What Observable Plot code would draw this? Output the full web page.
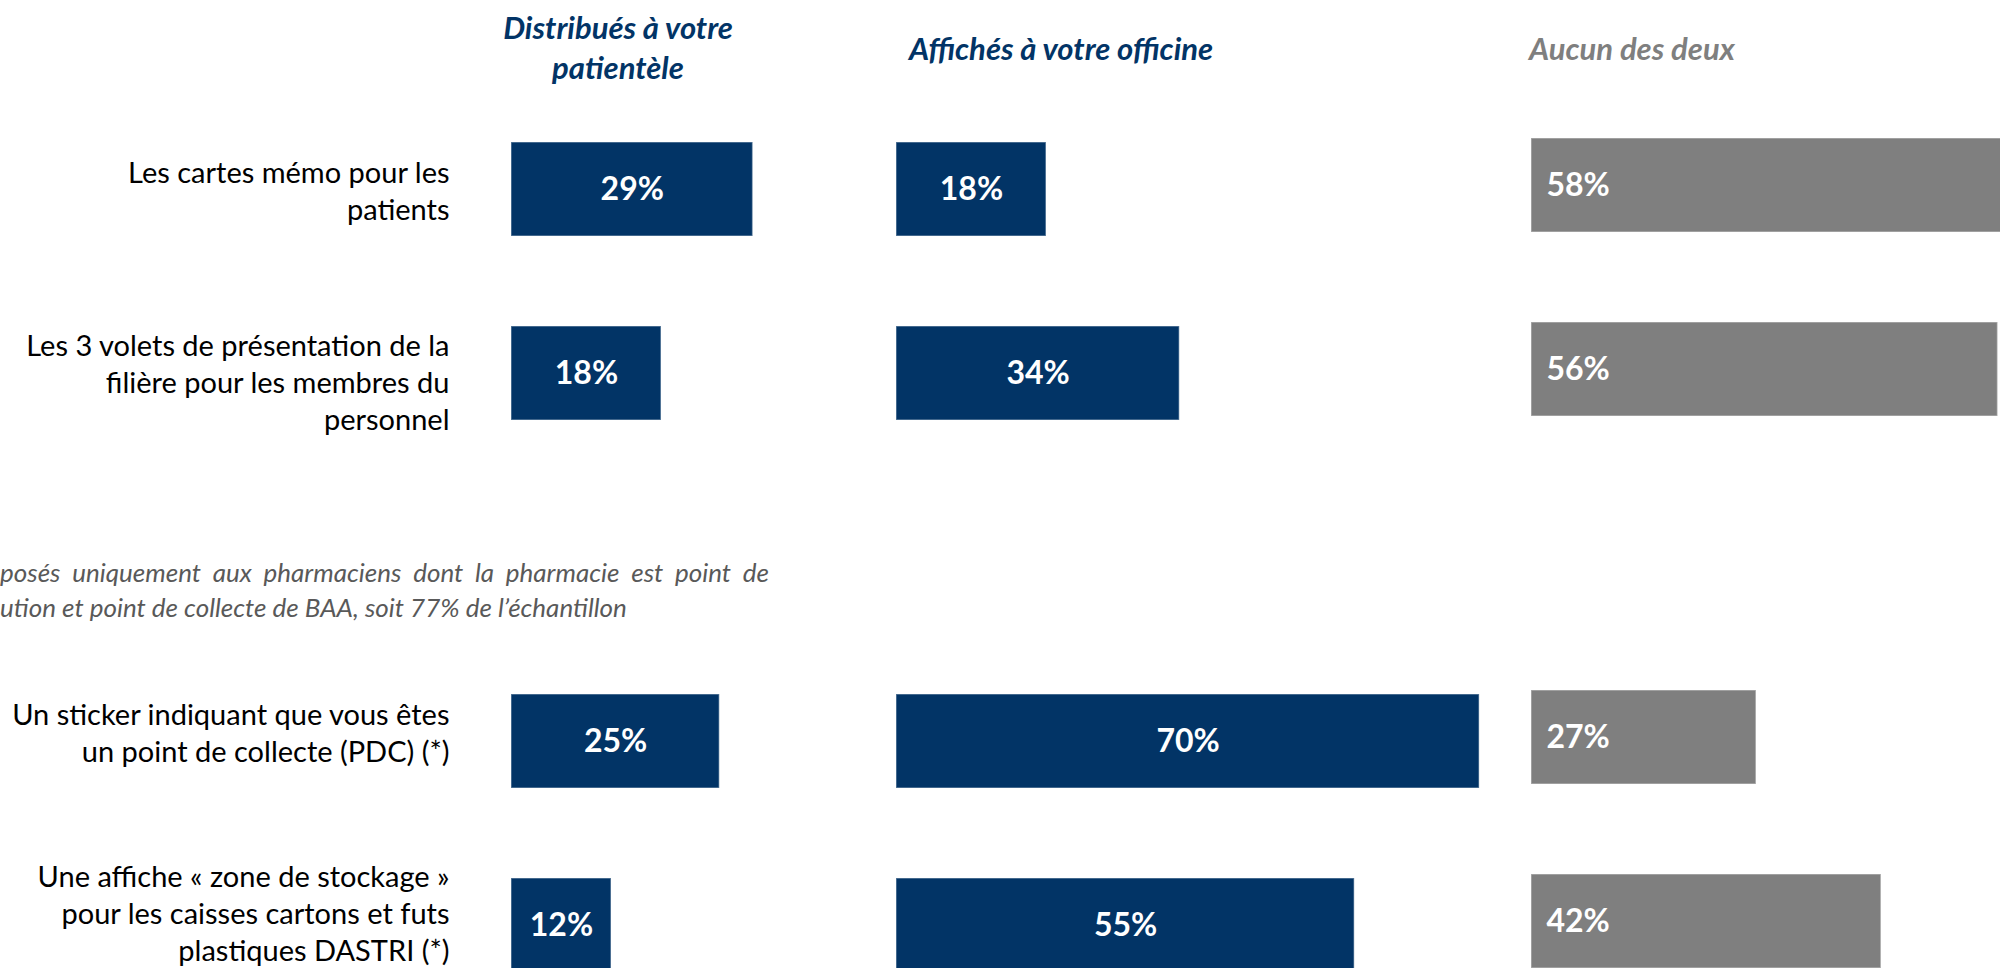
<!DOCTYPE html>
<html>
<head>
<meta charset="utf-8">
<script src="https://cdn.jsdelivr.net/npm/d3@7"></script>
<script src="https://cdn.jsdelivr.net/npm/@observablehq/plot@0.6"></script>
<style>
  html, body { margin: 0; padding: 0; background: #ffffff; overflow: hidden; }
  #chart { position: relative; width: 2000px; height: 968px; font-family: Lato, "Open Sans", sans-serif; }
  #chart svg { position: absolute; left: 0; top: 0; }
  .hdr { position: absolute; font-weight: bold; font-style: italic; font-size: 31px; line-height: 40px; white-space: pre; }
  .note { position: absolute; left: 0; font-style: italic; font-size: 26px; line-height: 28px; color: #595959; white-space: nowrap; }
</style>
</head>
<body>
<div id="chart"></div>
<script>
// ---- data ----
const categories = [
  "Les cartes mémo pour les\npatients",
  "Les 3 volets de présentation de la\nfilière pour les membres du\npersonnel",
  "Un sticker indiquant que vous êtes\nun point de collecte (PDC) (*)",
  "Une affiche « zone de stockage »\npour les caisses cartons et futs\nplastiques DASTRI (*)"
];
const distribues = [29, 18, 25, 12];
const affiches   = [18, 34, 70, 55];
const aucun      = [58, 56, 27, 42];
const seriesTitles = ["Distribués à votre\npatientèle", "Affichés à votre officine", "Aucun des deux"];
const noteLines = [
  "posés uniquement aux pharmaciens dont la pharmacie est point de",
  "ution et point de collecte de BAA, soit 77% de l’échantillon"
];

// ---- layout ----
const W = 2000, H = 968;
const NAVY = "#023466", GREY = "#7f7f7f";
const GAP = "\u00a0";
const yDomain = [categories[0], categories[1], GAP, categories[2], categories[3]];
const PX_PER_UNIT = 8.33;
const colStarts = [511, 896, 1531];
const labelShift = [0, 8, -10, -13]; // vertical nudge of each category label block, px

const chart = document.getElementById("chart");

function column(values, i, opts) {
  const rows = categories.map((c, k) => ({cat: c, value: values[k], k}));
  const start = colStarts[i];
  const color = opts.grey ? GREY : NAVY;
  const marks = [
    Plot.barX(rows, {
      y: "cat", x: "value", fill: color,
      stroke: "#ffffff", strokeOpacity: 0.35, strokeWidth: 1.5,
      insetTop: opts.grey ? -4 : 0, insetBottom: opts.grey ? 4 : 0
    })
  ];
  if (opts.grey) {
    marks.push(Plot.text(rows, {
      y: "cat", frameAnchor: "left", textAnchor: "start", dx: 15, dy: -4,
      text: d => d.value + "%", fill: "#ffffff", fontWeight: "bold", fontSize: 32
    }));
  } else {
    marks.push(Plot.text(rows, Plot.stackX({
      y: "cat", x: "value",
      text: d => d.value + "%", fill: "#ffffff", fontWeight: "bold", fontSize: 32
    })));
  }
  if (opts.labels) {
    rows.forEach((r, k) => {
      marks.push(Plot.text(rows, {
        filter: d => d.k === k,
        y: "cat", frameAnchor: "left", textAnchor: "end", dx: -62, dy: labelShift[k],
        text: "cat", fill: "#000000", fontSize: 29, lineHeight: 1.28
      }));
    });
  }
  return Plot.plot({
    width: W, height: H,
    marginLeft: start, marginRight: 0, marginTop: 0, marginBottom: 0,
    x: {domain: [0, 100], range: [start, start + 100 * PX_PER_UNIT], axis: null},
    y: {domain: yDomain, range: [140.3, 973.5], paddingInner: 0.49, paddingOuter: 0, axis: null},
    style: {background: "transparent", fontFamily: "Lato, 'Open Sans', sans-serif", overflow: "hidden"},
    marks
  });
}

chart.appendChild(column(distribues, 0, {labels: true}));
chart.appendChild(column(affiches, 1, {}));
chart.appendChild(column(aucun, 2, {grey: true}));

// column headers
const hdrs = [
  {left: 468, top: 7, width: 300, align: "center", color: NAVY},
  {left: 909, top: 28, width: 300, align: "center", color: NAVY},
  {left: 1529, top: 28, width: 300, align: "left", color: GREY}
];
seriesTitles.forEach((t, i) => {
  const d = document.createElement("div");
  d.className = "hdr";
  d.textContent = t;
  Object.assign(d.style, {left: hdrs[i].left + "px", top: hdrs[i].top + "px", width: hdrs[i].width + "px",
    textAlign: hdrs[i].align, color: hdrs[i].color});
  chart.appendChild(d);
});

// note (clipped at the left edge in the source)
const n1 = document.createElement("div");
n1.className = "note";
n1.textContent = noteLines[0];
Object.assign(n1.style, {top: "558px", width: "769px", textAlign: "justify", textAlignLast: "justify", whiteSpace: "normal"});
chart.appendChild(n1);
const n2 = document.createElement("div");
n2.className = "note";
n2.textContent = noteLines[1];
n2.style.top = "593px";
chart.appendChild(n2);
</script>
</body>
</html>
